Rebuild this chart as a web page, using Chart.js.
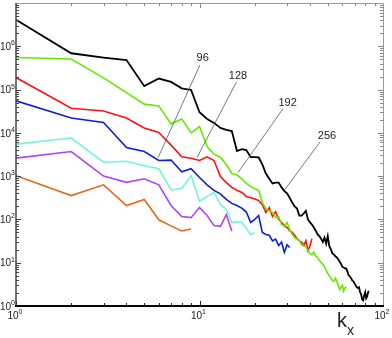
<!DOCTYPE html>
<html>
<head>
<meta charset="utf-8">
<script src="https://cdn.jsdelivr.net/npm/chart.js@4.4.1/dist/chart.umd.min.js"></script>
<style>
  html, body { margin: 0; padding: 0; background: #fff; }
</style>
</head>
<body>
<canvas id="espectro" width="392" height="338"></canvas>
<script>
// espectros por resolucion (valor en cada numero de onda entero kx = 1, 2, 3, ...)
const serie256 = [4.1e6, 6.9e5, 5.5e5, 4.8e5, 1.2e5, 1.8e5, 1.5e5, 1.07e5, 9.8e4, 3.0e4,
  2.1e4, 1.7e4, 1.3e4, 1.17e4, 1.1e4, 3800, 4200, 4000, 2750, 2750,
  2700, 1860, 1150, 870, 680, 710, 710, 550, 450, 400,
  316, 245, 200, 178, 123, 123, 138, 158, 100, 85,
  76, 65, 55, 45, 41, 36, 30, 38, 27.5, 41,
  24, 20.4, 16.2, 15.5, 14.1, 13.2, 12, 10.7, 9.5, 8.1,
  7.8, 7.4, 7.4, 6.3, 5.1, 4.8, 4.4, 3.9, 3.7, 3.3,
  3.0, 2.7, 2.6, 2.7, 2.1, 1.86, 1.41, 1.35, 1.78, 2.1,
  1.5, 1.66, 2.1, 2.2];
const serie192 = [5.5e5, 5.1e5, 1.86e5, 8.5e4, 4.6e4, 4.2e4, 1.6e4, 2.1e4, 1.0e4, 1.4e4,
  4800, 3200, 2750, 1860, 1150, 1070, 870, 680, 575, 510,
  470, 245, 178, 158, 145, 110, 115, 76, 69, 85,
  59, 45, 38, 35, 32, 26, 25, 23.4, 19, 16.2,
  15.5, 17.4, 14.1, 13.2, 11.2, 10.2, 9.1, 8.1, 6.6, 5.6,
  5.1, 4.4, 3.9, 3.7, 4.4, 3.7, 3.0, 2.4, 2.7, 3.0,
  2.2, 2.6, 2.75];
const serie128 = [1.9e5, 3.7e4, 3.2e4, 2.2e4, 1.3e4, 1.02e4, 5200, 2800, 2600, 2300,
  2800, 2300, 980, 710, 550, 470, 420, 340, 316, 295,
  275, 220, 145, 186, 117, 151, 100, 85, 72, 65,
  55, 50, 43, 36, 32, 30, 25, 32, 19, 25,
  36];
const serie96 = [5.5e4, 2.2e4, 1.74e4, 4600, 3700, 2300, 2350, 1260, 1480, 930,
  630, 470, 390, 290, 235, 210, 182, 148, 85, 100,
  123, 50, 45, 43, 32, 35, 25, 30, 17.4, 26,
  22.4];
const serie64 = [5500, 7600, 2100, 2200, 1740, 1480, 480, 525, 1020, 263,
  340, 420, 220, 170, 85, 89, 85, 62, 45, 50];
const serie48 = [2600, 3700, 1000, 720, 870, 630, 210, 117, 110, 190,
  123, 72, 69, 129, 54];
const serie32 = [1020, 355, 630, 210, 290, 98, 71, 54, 60];

const colores = ["#000000", "#62ea00", "#ff1010", "#0a20d4", "#70f5d8", "#b042f8", "#e8681a"];
const series = [serie256, serie192, serie128, serie96, serie64, serie48, serie32];

// etiquetas de ejes: exponentes de las decadas
const expX = ["0", "1", "2"];
const expY = ["0", "1", "2", "3", "4", "5", "6"];

// notas: texto, posicion del texto, inicio y fin de la linea (en unidades de datos)
const notas = [
  { texto: "96",  tx: 10.4, ty: 5.4e5, x0: 10.05, y0: 3.7e5, x1: 5.95, y1: 2700 },
  { texto: "128", tx: 16.2, ty: 2.1e5, x0: 15.9,  y0: 1.5e5, x1: 9.7,  y1: 2700 },
  { texto: "192", tx: 30.2, ty: 4.9e4, x0: 28.5,  y0: 3.6e4, x1: 16.2, y1: 1200 },
  { texto: "256", tx: 49.5, ty: 8.6e3, x0: 45.4,  y0: 6.2e3, x1: 29.2, y1: 490 }
];

const fuente = "'Liberation Sans', Arial, sans-serif";

const marco = {
  id: "marco",
  afterDatasetsDraw(chart) {
    const { ctx, chartArea: a, scales: { x, y } } = chart;
    ctx.save();

    // marcas del eje x (abajo y arriba, hacia dentro)
    for (let d = 0; d < 2; d++) {
      for (let m = 1; m <= 9; m++) {
        const px = Math.round(x.getPixelForValue(m * Math.pow(10, d))) + 0.5;
        const largo = m === 1 ? 5 : 3;
        ctx.lineWidth = 1;
        ctx.strokeStyle = "#222";
        ctx.beginPath(); ctx.moveTo(px, a.bottom); ctx.lineTo(px, a.bottom - largo); ctx.stroke();
        ctx.strokeStyle = "#888";
        ctx.beginPath(); ctx.moveTo(px, a.top); ctx.lineTo(px, a.top + largo); ctx.stroke();
      }
    }
    // marcas del eje y (izquierda y derecha)
    for (let d = 0; d < 7; d++) {
      for (let m = 1; m <= 9; m++) {
        const py = Math.round(y.getPixelForValue(m * Math.pow(10, d))) + 0.5;
        const largo = m === 1 ? 5 : 3;
        ctx.strokeStyle = "#444";
        ctx.beginPath(); ctx.moveTo(a.left, py); ctx.lineTo(a.left + largo, py); ctx.stroke();
        ctx.strokeStyle = "#888";
        ctx.beginPath(); ctx.moveTo(a.right, py); ctx.lineTo(a.right - largo, py); ctx.stroke();
      }
    }

    // bordes
    ctx.strokeStyle = "#999";
    ctx.lineWidth = 1;
    ctx.beginPath();
    ctx.moveTo(a.left, a.top + 0.5); ctx.lineTo(a.right + 0.5, a.top + 0.5); ctx.lineTo(a.right + 0.5, a.bottom);
    ctx.stroke();
    ctx.strokeStyle = "#444";
    ctx.lineWidth = 1.5;
    ctx.beginPath(); ctx.moveTo(a.left, a.top); ctx.lineTo(a.left, a.bottom); ctx.stroke();
    ctx.strokeStyle = "#000";
    ctx.lineWidth = 2;
    ctx.beginPath(); ctx.moveTo(a.left - 1, a.bottom); ctx.lineTo(a.right + 1, a.bottom); ctx.stroke();

    // etiquetas 10^n
    ctx.fillStyle = "#222";
    ctx.textBaseline = "middle";
    expY.forEach(e => {
      const py = y.getPixelForValue(Math.pow(10, Number(e)));
      ctx.font = "7px " + fuente;
      const we = ctx.measureText(e).width;
      ctx.textAlign = "right";
      ctx.fillText(e, a.left - 1, py - 3);
      ctx.font = "10px " + fuente;
      ctx.fillText("10", a.left - 1 - we, py + 1);
    });
    expX.forEach(e => {
      const px = x.getPixelForValue(Math.pow(10, Number(e)));
      ctx.font = "10px " + fuente;
      const wb = ctx.measureText("10").width;
      ctx.font = "7px " + fuente;
      const we = ctx.measureText(e).width;
      const x0 = px - (wb + we) / 2 - 1;
      ctx.textAlign = "left";
      ctx.font = "10px " + fuente;
      ctx.fillText("10", x0, a.bottom + 10);
      ctx.font = "7px " + fuente;
      ctx.fillText(e, x0 + wb, a.bottom + 6);
    });

    // titulo del eje x
    ctx.textBaseline = "alphabetic";
    ctx.textAlign = "left";
    ctx.font = "20px " + fuente;
    ctx.fillText("k", a.left + 321, a.bottom + 21);
    ctx.font = "14px " + fuente;
    ctx.fillText("x", a.left + 331, a.bottom + 29);

    // notas con lineas
    ctx.strokeStyle = "#555";
    ctx.lineWidth = 0.8;
    ctx.font = "11px " + fuente;
    ctx.textAlign = "center";
    ctx.textBaseline = "middle";
    notas.forEach(n => {
      ctx.beginPath();
      ctx.moveTo(x.getPixelForValue(n.x0), y.getPixelForValue(n.y0));
      ctx.lineTo(x.getPixelForValue(n.x1), y.getPixelForValue(n.y1));
      ctx.stroke();
      ctx.fillText(n.texto, x.getPixelForValue(n.tx), y.getPixelForValue(n.ty));
    });
    ctx.restore();
  }
};

const conjuntos = series.map((s, i) => ({
  data: s.map((v, j) => ({ x: j + 1, y: v })),
  borderColor: colores[i],
  borderWidth: i === 0 ? 1.8 : 1.6,
  pointRadius: 0,
  tension: 0,
  fill: false
}));

new Chart(document.getElementById("espectro"), {
  type: "line",
  data: { datasets: conjuntos },
  options: {
    responsive: false,
    animation: false,
    devicePixelRatio: 1,
    layout: { padding: { left: 16, right: 9, top: 3, bottom: 32 } },
    plugins: { legend: { display: false }, tooltip: { enabled: false } },
    scales: {
      x: { type: "logarithmic", min: 1, max: 100, display: false },
      y: { type: "logarithmic", min: 1, max: 1e7, display: false }
    }
  },
  plugins: [marco]
});
</script>
</body>
</html>
